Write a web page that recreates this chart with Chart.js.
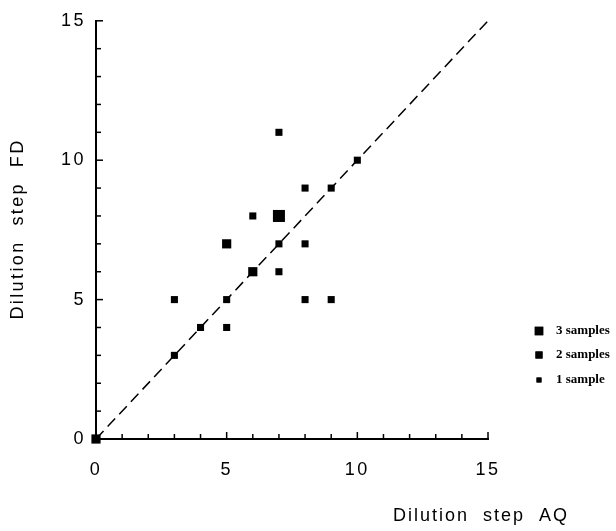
<!DOCTYPE html>
<html>
<head>
<meta charset="utf-8">
<script src="https://cdn.jsdelivr.net/npm/chart.js@4/dist/chart.umd.min.js"></script>
<style>
  html, body { margin: 0; padding: 0; background: #fff; }
  #wrap { width: 616px; height: 531px; position: relative; }
</style>
</head>
<body>
<div id="wrap"><canvas id="c" width="616" height="531"></canvas></div>
<script>
// ---- data ----
const xAQ      = [0, 3, 3, 4, 5, 5, 5, 6, 6, 7, 7,  7, 7, 8, 8, 8, 9, 9, 10];
const yFD      = [0, 3, 5, 4, 4, 5, 7, 6, 8, 8, 11, 7, 6, 9, 7, 5, 9, 5, 10];
const nSamples = [2, 1, 1, 1, 1, 1, 2, 2, 1, 3, 1,  1, 1, 1, 1, 1, 1, 1, 1];
const tickValues = [0, 5, 10, 15];
const identityLine = [0, 15];
const legendCounts = [3, 2, 1];
const legendLabels = ['3 samples', '2 samples', '1 sample'];
const xTitle = 'Dilution  step  AQ';
const yTitle = 'Dilution  step  FD';

// ---- styling ----
const radiusFor = {1: 5, 2: 6.5, 3: 8.5};
const legendRadiusFor = {1: 3.5, 2: 5, 3: 6};

const scatterData = xAQ.map((x, i) => ({x: x, y: yFD[i]}));
const lineData = identityLine.map(v => ({x: v, y: v}));

const extras = {
  id: 'extras',
  beforeDraw(chart) {
    chart.ctx.letterSpacing = '2.5px';
  },
  afterDatasetsDraw(chart) {
    const ctx = chart.ctx;
    const xs = chart.scales.x, ys = chart.scales.y;
    const left = chart.chartArea.left, bottom = chart.chartArea.bottom;
    ctx.save();
    ctx.strokeStyle = '#000';
    ctx.lineWidth = 1.5;
    for (let v = 1; v <= 15; v++) {
      const major = v % 5 === 0;
      const len = major ? 7 : 5;
      const py = ys.getPixelForValue(v);
      ctx.beginPath(); ctx.moveTo(left, py); ctx.lineTo(left + len, py); ctx.stroke();
      const px = xs.getPixelForValue(v);
      ctx.beginPath(); ctx.moveTo(px, bottom); ctx.lineTo(px, bottom - len); ctx.stroke();
    }
    ctx.restore();
  },
  afterDraw(chart) {
    const ctx = chart.ctx;
    ctx.save();
    ctx.fillStyle = '#000';
    ctx.font = '18px "Liberation Sans", Arial, sans-serif';
    ctx.textBaseline = 'middle';
    ctx.textAlign = 'left';
    ctx.letterSpacing = '2px';
    ctx.fillText(xTitle, 393, 516);
    ctx.translate(18, 229);
    ctx.rotate(-Math.PI / 2);
    ctx.textAlign = 'center';
    ctx.letterSpacing = '2.4px';
    ctx.fillText(yTitle, 0, 0);
    ctx.restore();

    // legend
    ctx.save();
    ctx.letterSpacing = '0px';
    ctx.fillStyle = '#000';
    ctx.font = 'bold 13px "Liberation Serif", "Times New Roman", serif';
    ctx.textBaseline = 'middle';
    ctx.textAlign = 'left';
    const ly = [331, 355, 380];
    legendCounts.forEach((n, i) => {
      Chart.helpers.drawPoint(ctx, {pointStyle: 'rect', radius: legendRadiusFor[n], borderWidth: 0}, 539, ly[i]);
      ctx.fill();
      ctx.fillText(legendLabels[i], 556, ly[i]);
    });
    ctx.restore();
    ctx.letterSpacing = '0px';
  }
};

new Chart(document.getElementById('c'), {
  type: 'scatter',
  data: {
    datasets: [
      {
        type: 'scatter',
        data: scatterData,
        pointStyle: 'rect',
        pointRadius: nSamples.map(n => radiusFor[n]),
        pointBackgroundColor: '#000',
        pointBorderColor: '#000',
        pointBorderWidth: 0,
        clip: false,
        order: 1
      },
      {
        type: 'line',
        data: lineData,
        borderColor: '#000',
        borderWidth: 1.5,
        borderDash: [11, 6],
        pointRadius: 0,
        fill: false,
        clip: false,
        order: 2
      }
    ]
  },
  options: {
    responsive: false,
    animation: false,
    events: [],
    layout: { padding: { top: 16, right: 128, left: 0, bottom: 0 } },
    plugins: { legend: { display: false }, tooltip: { enabled: false } },
    scales: {
      x: {
        type: 'linear', min: 0, max: 15,
        afterBuildTicks(scale) { scale.ticks = tickValues.map(v => ({value: v})); },
        afterFit(scale) { scale.height = 92; },
        grid: { display: false, drawTicks: false },
        border: { display: true, color: '#000', width: 2 },
        ticks: { color: '#000', padding: 20, maxRotation: 0, autoSkip: false,
                 font: { family: '"Liberation Sans", Arial, sans-serif', size: 18 } }
      },
      y: {
        type: 'linear', min: 0, max: 15,
        afterBuildTicks(scale) { scale.ticks = tickValues.map(v => ({value: v})); },
        afterFit(scale) { scale.width = 96; },
        grid: { display: false, drawTicks: false },
        border: { display: true, color: '#000', width: 2 },
        ticks: { color: '#000', padding: 10, autoSkip: false,
                 font: { family: '"Liberation Sans", Arial, sans-serif', size: 18 } }
      }
    }
  },
  plugins: [extras]
});
</script>
</body>
</html>
